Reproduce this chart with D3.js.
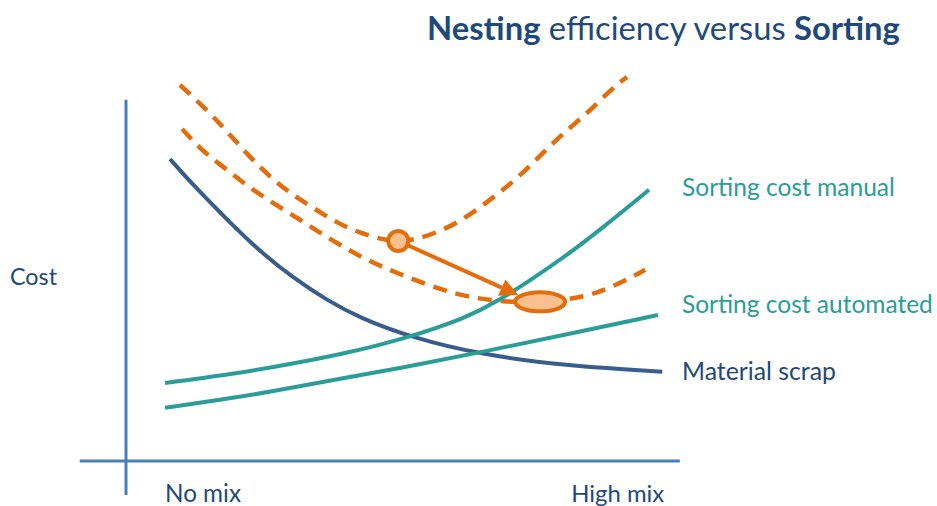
<!DOCTYPE html>
<html><head><meta charset="utf-8">
<script src="https://cdn.jsdelivr.net/npm/d3@7"></script>
<style>html,body{margin:0;padding:0;background:#fff;} svg{display:block;}</style>
</head><body>
<svg id="chart" width="937" height="506"></svg>
<script>
// ---- data (x: 0 = no mix .. 100 = high mix, y: cost 0..100) ----
const materialScrap = [[8,75.5],[12.2,69],[18.4,60.3],[24.4,52.3],[30.4,45.8],[36.5,40.2],[42.5,35.8],[51.6,31],[64.9,26.5],[80.2,23.8],[97.5,22.3]];
const sortingManual = [[7.1,19.5],[20.7,22],[29.8,24.2],[38.9,26.6],[49.8,30.2],[62,35.8],[68,40.3],[74,45.6],[80.2,51.5],[86.2,57.8],[95.1,67.8]];
const sortingAutomated = [[7.1,13.3],[20.7,16],[29.8,18.2],[38.9,20.6],[49.8,23.2],[64.9,27.3],[80.2,31.7],[96.7,36.5]];
const totalManual = [[9.8,94],[15.3,87],[18.9,81.5],[22.5,76],[26.2,71],[29.8,67],[34,63.3],[38.4,59.5],[42.5,57],[46.7,55.3],[49.5,55],[52.2,55.2],[57.1,57.3],[62,61],[66.2,65.3],[70.4,69.8],[74,74.5],[77.6,79.5],[81.3,84],[84.9,88.3],[88.5,93.3],[91.1,96]];
const totalAutomated = [[10.2,83],[14,77.3],[18.4,72.8],[22.5,68.3],[26.7,64.5],[31.1,60.8],[35.3,57],[39.8,53.3],[44.4,49.8],[49.3,47],[55.8,43.5],[62,41],[68.5,39.8],[75.3,39.6],[83.1,40.8],[88.5,43.5],[94.4,47.8]];
const optimumManual = [49.5, 55];
const optimumAutomated = [75.3, 39.8];
const arrowTip = [71.3, 41.5];
const xAxisExtent = [-8.4, 100.7];
const yAxisExtent = [-8.5, 90.3];
const xTickLabels = ["No mix", "High mix"];
const xTickPositions = [14, 89.4];
const seriesLabels = ["Sorting cost manual", "Sorting cost automated", "Material scrap"];
const seriesLabelY = [66.3, 37, 20.3];
const yAxisLabel = "Cost";

// ---- drawing ----
const svg = d3.select("#chart");
const x = d3.scaleLinear().domain([0,100]).range([126,676]);
const y = d3.scaleLinear().domain([0,100]).range([461,61]);
const line = d3.line().x(d=>x(d[0])).y(d=>y(d[1])).curve(d3.curveBasis);

const ORANGE = "#E46C0A", ORANGE_LIGHT = "#FAC090", TEAL = "#2A9D96", NAVY = "#385D8A", AXIS = "#4A7EBB", TEXT = "#1F497D";
const FONT = "Lato, 'Open Sans', sans-serif";

function fit(sel, target){
  const w = sel.node().getComputedTextLength();
  const fs = parseFloat(sel.attr("font-size"));
  sel.attr("font-size", fs*target/w);
}

// axes
svg.append("line").attr("x1", x(0)).attr("x2", x(0)).attr("y1", y(yAxisExtent[0])).attr("y2", y(yAxisExtent[1]))
  .attr("stroke", AXIS).attr("stroke-width", 3);
svg.append("line").attr("x1", x(xAxisExtent[0])).attr("x2", x(xAxisExtent[1])).attr("y1", y(0)).attr("y2", y(0))
  .attr("stroke", AXIS).attr("stroke-width", 3);

// dashed totals
[totalManual, totalAutomated].forEach(d => {
  svg.append("path").attr("d", line(d)).attr("fill","none").attr("stroke", ORANGE)
    .attr("stroke-width", 4.5).attr("stroke-dasharray", "14,9");
});
// solid curves
svg.append("path").attr("d", line(materialScrap)).attr("fill","none").attr("stroke", NAVY).attr("stroke-width", 4);
svg.append("path").attr("d", line(sortingAutomated)).attr("fill","none").attr("stroke", TEAL).attr("stroke-width", 4);
svg.append("path").attr("d", line(sortingManual)).attr("fill","none").attr("stroke", TEAL).attr("stroke-width", 4);

// arrow
const sx = x(optimumManual[0]), sy = y(optimumManual[1]);
const tx = x(arrowTip[0]), ty = y(arrowTip[1]);
const ang = Math.atan2(ty-sy, tx-sx);
const headLen = 18, headHalf = 9;
const bx = tx - headLen*Math.cos(ang), by = ty - headLen*Math.sin(ang);
svg.append("line").attr("x1", sx).attr("y1", sy).attr("x2", bx).attr("y2", by)
  .attr("stroke", ORANGE).attr("stroke-width", 4);
svg.append("path").attr("d", `M${tx},${ty}L${bx + headHalf*Math.sin(ang)},${by - headHalf*Math.cos(ang)}L${bx - headHalf*Math.sin(ang)},${by + headHalf*Math.cos(ang)}Z`)
  .attr("fill", ORANGE);

// optimum markers
svg.append("circle").attr("cx", sx).attr("cy", sy).attr("r", 10)
  .attr("fill", ORANGE_LIGHT).attr("stroke", ORANGE).attr("stroke-width", 4);
svg.append("ellipse").attr("cx", x(optimumAutomated[0])).attr("cy", y(optimumAutomated[1])).attr("rx", 25).attr("ry", 9.5)
  .attr("fill", ORANGE_LIGHT).attr("stroke", ORANGE).attr("stroke-width", 4);

// title
const title = svg.append("text").attr("x", 427).attr("y", 40).attr("font-family", FONT).attr("font-size", 28).attr("fill", TEXT);
title.append("tspan").attr("font-weight", "bold").text("Nesting");
title.append("tspan").text(" efficiency versus ");
title.append("tspan").attr("font-weight", "bold").text("Sorting");
fit(title, 473);

// y label
fit(svg.append("text").attr("x", 10).attr("y", 285).attr("font-family", FONT).attr("font-size", 22).attr("fill", TEXT).text(yAxisLabel), 47);

// x tick labels
const tickWidths = [76, 93];
xTickLabels.forEach((t,i) => {
  const el = svg.append("text").attr("x", x(xTickPositions[i])).attr("y", 502).attr("text-anchor","middle")
    .attr("font-family", FONT).attr("font-size", 22).attr("fill", TEXT).text(t);
  fit(el, tickWidths[i]);
});

// series labels
const labelColors = [TEAL, TEAL, TEXT];
const labelWidths = [213, 251, 154];
seriesLabels.forEach((t,i) => {
  const el = svg.append("text").attr("x", 682).attr("y", y(seriesLabelY[i])).attr("font-family", FONT)
    .attr("font-size", 22).attr("fill", labelColors[i]).text(t);
  fit(el, labelWidths[i]);
});
</script>
</body></html>
